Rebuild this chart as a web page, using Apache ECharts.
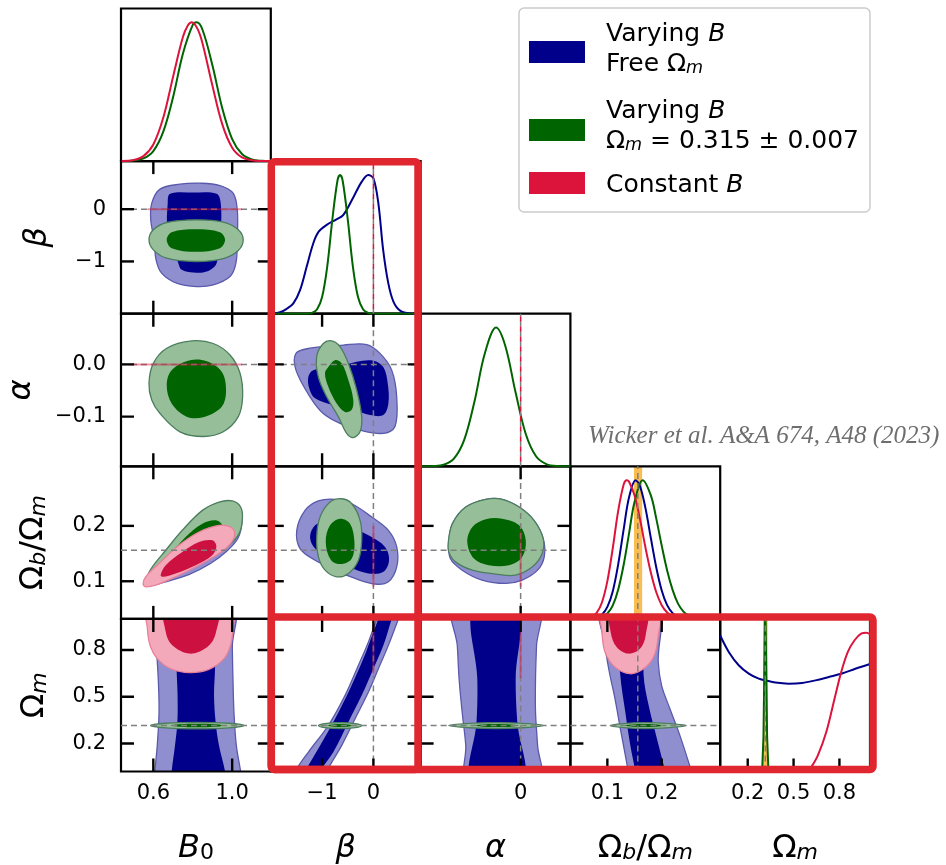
<!DOCTYPE html>
<html>
<head>
<meta charset="utf-8">
<script src="https://cdn.jsdelivr.net/npm/echarts@6.0.0/dist/echarts.min.js"></script>
<style>html,body{margin:0;padding:0;background:#fff;}#chart{width:946px;height:865px;}</style>
</head>
<body>
<div id="chart"></div>
<script>
// ================= DATA =================
const runNames = ['Varying B, free Om', 'Varying B, Om = 0.315 +- 0.007', 'Constant B'];

// axis ranges per parameter
const rangeB0 = [0.436, 1.196];
const rangeBeta = [-2.0, 0.92];
const rangeAlpha = [-0.195, 0.097];
const rangeOmb = [0.032, 0.3076];
const rangeOm = [0.02, 1.0];

// ticks and tick labels
const ticksB0 = [0.6, 1.0], labelsB0 = ['0.6', '1.0'];
const ticksBeta = [-1, 0], labelsBeta = ['\u22121', '0'];
const ticksAlphaX = [0], labelsAlphaX = ['0'];
const ticksAlphaY = [-0.1, 0], labelsAlphaY = ['\u22120.1', '0.0'];
const ticksOmb = [0.1, 0.2], labelsOmb = ['0.1', '0.2'];
const ticksOm = [0.2, 0.5, 0.8], labelsOm = ['0.2', '0.5', '0.8'];

// reference values and Planck bands
const refBeta = 0, refAlpha = 0, refOmb = 0.156, refOm = 0.315;
const bandOmb = [0.149, 0.164];
const bandOm = [0.300, 0.330];

// ---- 1D marginals (normalised) ----
const b0Red = [[0.44,0.001],[0.50,0.008],[0.55,0.036],[0.60,0.12],[0.65,0.31],[0.70,0.607],[0.75,0.894],[0.775,0.978],[0.795,1.0],[0.825,0.951],[0.85,0.846],[0.90,0.543],[0.95,0.265],[1.00,0.097],[1.05,0.027],[1.10,0.006],[1.15,0.001],[1.196,0]];
const b0Green = [[0.44,0],[0.50,0.004],[0.55,0.019],[0.60,0.072],[0.65,0.21],[0.70,0.46],[0.75,0.774],[0.80,0.982],[0.82,1.0],[0.85,0.945],[0.90,0.689],[0.95,0.38],[1.00,0.159],[1.05,0.051],[1.10,0.012],[1.15,0.002],[1.196,0]];
const betaBlue = [[-2.0,0],[-1.95,0.002],[-1.82,0.01],[-1.69,0.035],[-1.56,0.075],[-1.43,0.17],[-1.30,0.34],[-1.17,0.51],[-1.07,0.59],[-0.91,0.64],[-0.72,0.68],[-0.59,0.71],[-0.39,0.84],[-0.23,0.95],[-0.10,1.0],[0.0,0.975],[0.095,0.80],[0.19,0.46],[0.29,0.22],[0.39,0.087],[0.52,0.022],[0.71,0.002],[0.92,0]];
const betaGreen = [[-2.0,0],[-1.3,0],[-1.2,0.005],[-1.1,0.03],[-1.0,0.12],[-0.9,0.34],[-0.8,0.68],[-0.7,0.96],[-0.65,1.0],[-0.6,0.96],[-0.5,0.68],[-0.4,0.34],[-0.3,0.12],[-0.2,0.03],[-0.1,0.005],[0.0,0],[0.92,0]];
const alphaGreen = [[-0.195,0],[-0.17,0.002],[-0.15,0.011],[-0.13,0.055],[-0.11,0.19],[-0.09,0.467],[-0.07,0.811],[-0.048,1.0],[-0.03,0.869],[-0.01,0.535],[0.01,0.233],[0.03,0.072],[0.05,0.016],[0.07,0.002],[0.097,0]];
const ombRed = [[0.032,0],[0.06,0.003],[0.07,0.012],[0.08,0.042],[0.09,0.118],[0.10,0.272],[0.11,0.511],[0.12,0.78],[0.13,0.969],[0.1355,1.0],[0.14,0.989],[0.15,0.89],[0.16,0.72],[0.17,0.516],[0.18,0.334],[0.19,0.192],[0.20,0.099],[0.21,0.046],[0.22,0.019],[0.24,0.002],[0.26,0],[0.3076,0]];
const ombBlue = [[0.032,0],[0.07,0.002],[0.08,0.009],[0.09,0.031],[0.10,0.087],[0.11,0.2],[0.12,0.395],[0.13,0.645],[0.14,0.878],[0.152,1.0],[0.16,0.957],[0.17,0.80],[0.18,0.583],[0.19,0.371],[0.20,0.205],[0.21,0.099],[0.22,0.042],[0.23,0.015],[0.25,0.001],[0.27,0],[0.3076,0]];
const ombGreen = [[0.032,0],[0.08,0.004],[0.09,0.013],[0.10,0.039],[0.11,0.097],[0.12,0.212],[0.13,0.39],[0.14,0.618],[0.15,0.842],[0.165,1.0],[0.18,0.89],[0.19,0.723],[0.20,0.528],[0.21,0.349],[0.22,0.209],[0.23,0.11],[0.24,0.053],[0.25,0.023],[0.26,0.009],[0.28,0.001],[0.3076,0]];
const omBlue = [[0.02,0.98],[0.076,0.862],[0.141,0.766],[0.207,0.706],[0.272,0.669],[0.316,0.657],[0.381,0.641],[0.468,0.633],[0.556,0.638],[0.643,0.657],[0.730,0.681],[0.817,0.706],[0.904,0.741],[1.0,0.775]];
const omRed = [[0.02,0],[0.55,0],[0.60,0.01],[0.615,0.03],[0.659,0.117],[0.714,0.285],[0.768,0.525],[0.812,0.718],[0.855,0.862],[0.899,0.946],[0.942,0.994],[0.975,1.0],[1.0,0.99]];
const omGreen = [[0.02,0],[0.28,0],[0.295,0.02],[0.303,0.25],[0.309,0.75],[0.315,1.25],[0.321,0.75],[0.327,0.25],[0.335,0.02],[0.35,0],[1.0,0]];

// ---- 2D contours (outer = 95%, inner = 68%) ----
const b0beta_blue2 = [[0.634,0.383],[0.735,0.478],[0.837,0.497],[0.938,0.453],[1.005,0.306],[1.026,-0.013],[1.026,-0.587],[1.019,-1.033],[0.989,-1.288],[0.904,-1.448],[0.820,-1.480],[0.718,-1.416],[0.642,-1.224],[0.614,-0.969],[0.604,-0.587],[0.587,-0.204],[0.592,0.115]];
const b0beta_blue1 = [[0.685,0.293],[0.803,0.319],[0.921,0.293],[0.942,0.115],[0.942,-0.395],[0.921,-1.033],[0.871,-1.193],[0.803,-1.212],[0.744,-1.161],[0.727,-1.033],[0.673,-0.395],[0.673,0.115]];
const b0beta_green2 = [[0.578,-0.587],[0.600,-0.395],[0.668,-0.255],[0.816,-0.204],[0.955,-0.249],[1.031,-0.395],[1.056,-0.587],[1.031,-0.791],[0.955,-0.944],[0.816,-1.001],[0.668,-0.938],[0.600,-0.778]];
const b0beta_green1 = [[0.668,-0.587],[0.693,-0.440],[0.816,-0.383],[0.938,-0.440],[0.964,-0.587],[0.938,-0.746],[0.816,-0.816],[0.693,-0.746]];

const b0alpha_green2 = [[0.578,-0.036],[0.600,0.002],[0.668,0.031],[0.795,0.045],[0.904,0.040],[0.989,0.018],[1.040,-0.017],[1.053,-0.062],[1.031,-0.100],[0.955,-0.129],[0.853,-0.138],[0.735,-0.129],[0.634,-0.094],[0.592,-0.068]];
const b0alpha_green1 = [[0.668,-0.040],[0.693,-0.011],[0.786,0.008],[0.871,0.006],[0.947,-0.014],[0.969,-0.049],[0.947,-0.081],[0.853,-0.101],[0.769,-0.100],[0.693,-0.075]];

const betaalpha_blue2 = [[-1.509,0.021],[-1.236,0.031],[-0.587,0.037],[-0.131,0.038],[0.129,0.021],[0.357,-0.011],[0.454,-0.062],[0.421,-0.119],[0.193,-0.132],[-0.261,-0.126],[-0.651,-0.113],[-0.977,-0.094],[-1.236,-0.062],[-1.509,-0.011]];
const betaalpha_blue1 = [[-1.269,-0.024],[-1.172,-0.011],[-0.782,-0.008],[-0.326,0.005],[0.0,0.007],[0.193,-0.005],[0.279,-0.036],[0.292,-0.075],[0.193,-0.097],[-0.066,-0.097],[-0.392,-0.087],[-0.782,-0.078],[-1.138,-0.065],[-1.250,-0.046]];
const betaalpha_green2 = [[-0.977,0.040],[-0.814,0.045],[-0.651,0.034],[-0.489,0.002],[-0.326,-0.049],[-0.228,-0.100],[-0.261,-0.129],[-0.392,-0.140],[-0.521,-0.132],[-0.684,-0.100],[-0.911,-0.062],[-1.074,-0.024],[-1.106,0.015]];
const betaalpha_green1 = [[-0.879,-0.005],[-0.749,0.008],[-0.619,0.002],[-0.489,-0.030],[-0.392,-0.068],[-0.424,-0.087],[-0.554,-0.091],[-0.716,-0.075],[-0.879,-0.043],[-0.944,-0.017]];

const b0omb_blue2 = [[0.575,0.100],[0.600,0.120],[0.663,0.150],[0.747,0.186],[0.849,0.222],[0.933,0.238],[1.001,0.240],[1.043,0.229],[1.050,0.207],[1.030,0.178],[0.975,0.155],[0.890,0.132],[0.780,0.112],[0.663,0.099],[0.600,0.094]];
const b0omb_green2 = [[0.570,0.107],[0.595,0.126],[0.663,0.156],[0.747,0.192],[0.849,0.228],[0.933,0.243],[1.001,0.245],[1.043,0.234],[1.052,0.213],[1.035,0.186],[0.984,0.165],[0.899,0.144],[0.781,0.123],[0.663,0.108],[0.595,0.103]];
const b0omb_green1 = [[0.637,0.117],[0.679,0.144],[0.764,0.180],[0.849,0.204],[0.916,0.210],[0.950,0.201],[0.942,0.180],[0.882,0.159],[0.781,0.138],[0.679,0.117]];
const b0omb_red2 = [[0.548,0.095],[0.561,0.108],[0.629,0.132],[0.730,0.165],[0.832,0.189],[0.933,0.201],[0.992,0.198],[1.013,0.186],[0.992,0.168],[0.933,0.150],[0.832,0.129],[0.713,0.108],[0.612,0.093],[0.561,0.090]];
const b0omb_red1 = [[0.637,0.111],[0.663,0.129],[0.747,0.153],[0.832,0.171],[0.899,0.174],[0.920,0.163],[0.899,0.147],[0.815,0.129],[0.713,0.114],[0.654,0.108]];

const betaomb_blue2 = [[-1.494,0.192],[-1.332,0.228],[-1.072,0.245],[-0.747,0.248],[-0.422,0.240],[-0.032,0.216],[0.292,0.192],[0.455,0.162],[0.455,0.126],[0.292,0.099],[0.032,0.095],[-0.357,0.105],[-0.747,0.120],[-1.137,0.138],[-1.430,0.159]];
const betaomb_blue1 = [[-1.235,0.180],[-1.137,0.201],[-0.942,0.207],[-0.487,0.198],[-0.097,0.183],[0.227,0.162],[0.305,0.138],[0.195,0.117],[-0.097,0.114],[-0.487,0.126],[-0.877,0.144],[-1.137,0.159]];
const betaomb_green2 = [[-1.105,0.180],[-1.040,0.216],[-0.845,0.243],[-0.617,0.249],[-0.422,0.240],[-0.260,0.210],[-0.227,0.174],[-0.292,0.138],[-0.487,0.114],[-0.715,0.108],[-0.942,0.120],[-1.072,0.144]];
const betaomb_green1 = [[-0.929,0.171],[-0.845,0.201],[-0.650,0.213],[-0.455,0.204],[-0.370,0.171],[-0.422,0.141],[-0.617,0.131],[-0.825,0.138]];

const alphaomb_blue2 = [[-0.140,0.171],[-0.133,0.204],[-0.107,0.234],[-0.068,0.248],[-0.036,0.248],[-0.003,0.234],[0.026,0.210],[0.044,0.177],[0.046,0.144],[0.033,0.120],[0.003,0.102],[-0.029,0.096],[-0.075,0.102],[-0.114,0.120],[-0.137,0.141]];
const alphaomb_green2 = [[-0.141,0.171],[-0.133,0.204],[-0.107,0.234],[-0.068,0.248],[-0.036,0.248],[-0.003,0.234],[0.026,0.210],[0.044,0.177],[0.042,0.150],[0.023,0.126],[-0.010,0.111],[-0.049,0.113],[-0.094,0.120],[-0.127,0.135],[-0.140,0.153]];
const alphaomb_green1 = [[-0.104,0.171],[-0.094,0.198],[-0.068,0.212],[-0.036,0.213],[-0.003,0.201],[0.010,0.174],[0.003,0.144],[-0.023,0.129],[-0.062,0.129],[-0.091,0.141]];

const b0om_blue2 = [[0.606,-0.06],[0.608,0.02],[0.620,0.188],[0.629,0.402],[0.625,0.616],[0.615,0.830],[0.608,1.08],[1.004,1.08],[1.001,0.830],[1.004,0.616],[1.009,0.402],[1.021,0.188],[1.043,0.02],[1.05,-0.06]];
const b0om_blue1 = [[0.690,-0.06],[0.693,0.02],[0.710,0.188],[0.722,0.338],[0.723,0.509],[0.718,0.680],[0.710,1.08],[0.916,1.08],[0.913,0.680],[0.908,0.509],[0.916,0.338],[0.933,0.188],[0.964,0.02],[0.97,-0.06]];
const b0om_green2 = [[0.586,0.315],[0.663,0.330],[0.823,0.336],[0.984,0.330],[1.060,0.315],[0.984,0.300],[0.823,0.294],[0.663,0.300]];
const b0om_green1 = [[0.690,0.315],[0.735,0.323],[0.823,0.326],[0.915,0.323],[0.955,0.315],[0.915,0.307],[0.823,0.304],[0.735,0.307]];
const b0om_red2 = [[0.570,1.10],[0.570,0.937],[0.583,0.832],[0.620,0.745],[0.688,0.680],[0.784,0.655],[0.882,0.676],[0.959,0.745],[0.992,0.832],[1.004,0.937],[1.004,1.10]];
const b0om_red1 = [[0.659,1.10],[0.663,0.916],[0.696,0.830],[0.784,0.777],[0.874,0.820],[0.916,0.905],[0.925,1.10]];

const betaom_blue2 = [[-1.62,-0.06],[-1.527,0.02],[-1.267,0.145],[-0.877,0.317],[-0.552,0.509],[-0.292,0.702],[-0.097,0.852],[0.065,1.0],[0.15,1.08],[0.58,1.08],[0.487,1.0],[0.292,0.830],[0.097,0.680],[-0.097,0.531],[-0.357,0.359],[-0.617,0.188],[-0.910,0.02],[-0.98,-0.06]];
const betaom_blue1 = [[-1.43,-0.06],[-1.332,0.02],[-1.072,0.167],[-0.747,0.359],[-0.455,0.552],[-0.195,0.745],[0.0,0.916],[0.097,1.0],[0.17,1.08],[0.44,1.08],[0.357,1.0],[0.195,0.830],[0.0,0.680],[-0.227,0.509],[-0.487,0.338],[-0.780,0.145],[-1.040,0.02],[-1.11,-0.06]];
const betaom_green2 = [[-1.072,0.315],[-0.95,0.328],[-0.65,0.334],[-0.35,0.328],[-0.227,0.315],[-0.35,0.302],[-0.65,0.296],[-0.95,0.302]];
const betaom_green1 = [[-0.90,0.315],[-0.8,0.322],[-0.65,0.325],[-0.5,0.322],[-0.40,0.315],[-0.5,0.308],[-0.65,0.305],[-0.8,0.308]];

const alphaom_blue2 = [[-0.130,1.08],[-0.1235,0.830],[-0.120,0.616],[-0.114,0.402],[-0.107,0.188],[-0.104,-0.06],[0.037,-0.06],[0.033,0.188],[0.029,0.402],[0.029,0.616],[0.031,0.830],[0.034,1.08]];
const alphaom_blue1 = [[-0.092,1.08],[-0.0845,0.616],[-0.086,0.338],[-0.096,-0.06],[0.005,-0.06],[-0.0065,0.338],[-0.0097,0.616],[-0.006,1.08]];
const alphaom_green2 = [[-0.140,0.315],[-0.10,0.329],[-0.047,0.334],[0.005,0.329],[0.045,0.315],[0.005,0.301],[-0.047,0.296],[-0.10,0.301]];
const alphaom_green1 = [[-0.090,0.315],[-0.075,0.322],[-0.047,0.325],[-0.019,0.322],[-0.004,0.315],[-0.019,0.308],[-0.047,0.305],[-0.075,0.308]];

const ombom_blue2 = [[0.089,1.08],[0.0956,0.830],[0.1036,0.659],[0.114,0.488],[0.125,0.274],[0.1385,0.02],[0.142,-0.06],[0.262,-0.06],[0.2549,0.02],[0.2334,0.252],[0.2151,0.423],[0.1997,0.573],[0.1936,0.723],[0.192,1.08]];
const ombom_blue1 = [[0.117,1.08],[0.1238,0.638],[0.133,0.402],[0.1422,0.188],[0.1514,0.02],[0.154,-0.06],[0.211,-0.06],[0.2065,0.02],[0.1912,0.231],[0.1759,0.445],[0.1667,0.638],[0.166,1.08]];
const ombom_green2 = [[0.105,0.315],[0.13,0.328],[0.170,0.334],[0.215,0.328],[0.245,0.315],[0.215,0.302],[0.170,0.296],[0.13,0.302]];
const ombom_green1 = [[0.13,0.315],[0.145,0.322],[0.168,0.325],[0.19,0.322],[0.205,0.315],[0.19,0.308],[0.168,0.305],[0.145,0.308]];
const ombom_red2 = [[0.0889,1.10],[0.0901,0.916],[0.0956,0.788],[0.114,0.691],[0.1416,0.648],[0.1667,0.680],[0.185,0.755],[0.193,0.873],[0.1942,1.10]];
const ombom_red1 = [[0.1048,1.10],[0.106,0.916],[0.117,0.820],[0.1385,0.777],[0.16,0.809],[0.1704,0.894],[0.1722,1.10]];

// degenerate constant-B contours (beta = alpha = 0)
const constB_b0beta = [[0.57,0],[1.05,0]];
const constB_b0alpha = [[0.47,0],[1.05,0]];
const constB_betaomb = [[0,0.09],[0,0.20]];
const constB_alphaomb = [[0,0.09],[0,0.19]];
const constB_betaom = [[0,0.65],[0,1.0]];
const constB_alphaom = [[0,0.62],[0,1.0]];

// ================= CHART =================
const FONT = 'DejaVu Sans';
const PL = 121, PT = 8.5, PW = 149.8, PH = 152.6;
const TICK_LEN = 13;
const COL = {
  blue:  {line:'#00008b', fill2:'#8f8fd0', edge2:'#5a5aac', fill1:'#00008b', name: runNames[0]},
  green: {line:'#006400', fill2:'#96bf99', edge2:'#4b7d5e', fill1:'#006400', name: runNames[1]},
  red:   {line:'#dc143c', fill2:'#f3a9ba', edge2:'#e8809a', fill1:'#cc1040', name: runNames[2]}
};
const AR = {
  n:  {fontFamily:FONT, fontSize:32, lineHeight:38, color:'#000', verticalAlign:'bottom'},
  i:  {fontFamily:FONT, fontSize:32, lineHeight:38, color:'#000', fontStyle:'italic', verticalAlign:'bottom'},
  su: {fontFamily:FONT, fontSize:22, lineHeight:16, color:'#000', verticalAlign:'bottom', padding:[14,0,0,0]},
  si: {fontFamily:FONT, fontSize:22, lineHeight:16, color:'#000', fontStyle:'italic', verticalAlign:'bottom', padding:[14,0,0,0]}
};
const P = [
  {range:rangeB0, xt:ticksB0, xl:labelsB0, title:'{i|B}{su|0}'},
  {range:rangeBeta, xt:ticksBeta, xl:labelsBeta, yt:ticksBeta, yl:labelsBeta, title:'{i|\u03b2}', ref:refBeta},
  {range:rangeAlpha, xt:ticksAlphaX, xl:labelsAlphaX, yt:ticksAlphaY, yl:labelsAlphaY, title:'{i|\u03b1}', ref:refAlpha},
  {range:rangeOmb, xt:ticksOmb, xl:labelsOmb, yt:ticksOmb, yl:labelsOmb, title:'{n|\u03a9}{si|b}{n|/\u03a9}{si|m}', ref:refOmb},
  {range:rangeOm, xt:ticksOm, xl:labelsOm, yt:ticksOm, yl:labelsOm, title:'{n|\u03a9}{si|m}', ref:refOm}
];
const yNameGap = [0, 67, 83, 71, 70];
function lab(vals, labs, v) { for (let i = 0; i < vals.length; i++) if (Math.abs(v - vals[i]) < 1e-9) return labs[i]; return ''; }

const grids = [], xAxes = [], yAxes = [], xIdx = {}, yIdx = {};
const key = (r, c) => r * 10 + c;
for (let r = 0; r < 5; r++) for (let c = 0; c <= r; c++) {
  const gi = grids.length, diag = r === c, px = P[c], py = P[r];
  grids.push({left: PL + c * PW, top: PT + r * PH, width: PW, height: PH, show: true, borderColor: '#000', borderWidth: 2.2,
    backgroundColor: 'rgba(0,0,0,0)', z: 3, containLabel: false, outerBoundsMode: 'none'});
  xIdx[key(r, c)] = xAxes.length;
  const showXLab = r === 4;
  xAxes.push({type:'value', gridIndex: gi, position:'bottom', min: px.range[0], max: px.range[1], z: 11,
    axisLine: {show:false, onZero:false}, splitLine:{show:false}, splitArea:{show:false}, minorTick:{show:false},
    axisTick: {show:false},
    axisLabel: showXLab ? {show:true, customValues: px.xt, formatter: v => lab(px.xt, px.xl, v), fontFamily: FONT, fontSize: 21, color:'#000', margin: 12} : {show:false},
    name: showXLab ? px.title : '', nameLocation:'middle', nameGap: 55, nameMoveOverlap: false,
    nameTextStyle: {fontFamily: FONT, fontSize: 32, color:'#000', rich: AR}});
  yIdx[key(r, c)] = yAxes.length;
  if (diag) {
    yAxes.push({type:'value', gridIndex: gi, min: 0, max: 1.1, show: false, axisLine: {show:false, onZero:false}});
  } else {
    yAxes.push({type:'value', gridIndex: gi, position:'left', min: py.range[0], max: py.range[1], z: 11,
      axisLine: {show:false, onZero:false}, splitLine:{show:false}, axisTick: {show:false},
      axisLabel: c === 0 ? {show:true, customValues: py.yt, formatter: v => lab(py.yt, py.yl, v), fontFamily: FONT, fontSize: 21, color:'#000', margin: 15} : {show:false},
      name: c === 0 ? py.title : '', nameLocation:'middle', nameGap: yNameGap[r], nameMoveOverlap: false,
      nameTextStyle: {fontFamily: FONT, fontSize: 32, color:'#000', rich: AR}});
  }
}

const series = [];
let zOrd = 0;
function addPoly(r, c, run, lvl, pts) {
  const col = COL[run], ord = zOrd++;
  const fill = lvl === 2 ? col.fill2 : col.fill1;
  const stroke = lvl === 2 ? col.edge2 : null;
  series.push({type:'custom', name: col.name, xAxisIndex: xIdx[key(r, c)], yAxisIndex: yIdx[key(r, c)], clip: true, z: 2, silent: true,
    itemStyle:{color: col.line}, data: pts,
    renderItem: (params, api) => {
      if (params.dataIndex !== 0) return null;
      const p = pts.map(d => api.coord(d));
      return {type:'polygon', z2: ord, shape:{points: p, smooth: 0.35},
        style:{fill: fill, stroke: stroke || 'none', lineWidth: stroke ? 1.3 : 0}};
    }});
}
const contours = [
  [1,0,'blue',2,b0beta_blue2],[1,0,'blue',1,b0beta_blue1],[1,0,'green',2,b0beta_green2],[1,0,'green',1,b0beta_green1],
  [2,0,'green',2,b0alpha_green2],[2,0,'green',1,b0alpha_green1],
  [2,1,'blue',2,betaalpha_blue2],[2,1,'blue',1,betaalpha_blue1],[2,1,'green',2,betaalpha_green2],[2,1,'green',1,betaalpha_green1],
  [3,0,'blue',2,b0omb_blue2],[3,0,'green',2,b0omb_green2],[3,0,'green',1,b0omb_green1],[3,0,'red',2,b0omb_red2],[3,0,'red',1,b0omb_red1],
  [3,1,'blue',2,betaomb_blue2],[3,1,'blue',1,betaomb_blue1],[3,1,'green',2,betaomb_green2],[3,1,'green',1,betaomb_green1],
  [3,2,'blue',2,alphaomb_blue2],[3,2,'green',2,alphaomb_green2],[3,2,'green',1,alphaomb_green1],
  [4,0,'blue',2,b0om_blue2],[4,0,'blue',1,b0om_blue1],[4,0,'green',2,b0om_green2],[4,0,'green',1,b0om_green1],[4,0,'red',2,b0om_red2],[4,0,'red',1,b0om_red1],
  [4,1,'blue',2,betaom_blue2],[4,1,'blue',1,betaom_blue1],[4,1,'green',2,betaom_green2],[4,1,'green',1,betaom_green1],
  [4,2,'blue',2,alphaom_blue2],[4,2,'blue',1,alphaom_blue1],[4,2,'green',2,alphaom_green2],[4,2,'green',1,alphaom_green1],
  [4,3,'blue',2,ombom_blue2],[4,3,'blue',1,ombom_blue1],[4,3,'green',2,ombom_green2],[4,3,'green',1,ombom_green1],[4,3,'red',2,ombom_red2],[4,3,'red',1,ombom_red1]
];
contours.forEach(a => addPoly(a[0], a[1], a[2], a[3], a[4]));

// Planck bands in diagonal panels
[[3, bandOmb], [4, bandOm]].forEach(([c, band]) => {
  series.push({type:'custom', xAxisIndex: xIdx[key(c, c)], yAxisIndex: yIdx[key(c, c)], clip: true, z: 1, silent: true,
    data: [[band[0], 0]],
    renderItem: (params, api) => {
      const a = api.coord([band[0], 0]), b = api.coord([band[1], 1.1]);
      return {type:'rect', shape:{x: a[0], y: b[1], width: b[0] - a[0], height: a[1] - b[1]}, style:{fill:'rgba(247,172,35,0.78)'}};
    }});
});

// 1D marginals
const oneD = [
  [0,'green',b0Green],[0,'red',b0Red],
  [1,'blue',betaBlue],[1,'green',betaGreen],
  [2,'green',alphaGreen],
  [3,'blue',ombBlue],[3,'green',ombGreen],[3,'red',ombRed],
  [4,'blue',omBlue],[4,'red',omRed],[4,'green',omGreen]
];
oneD.forEach(([c, run, pts]) => {
  series.push({type:'line', xAxisIndex: xIdx[key(c, c)], yAxisIndex: yIdx[key(c, c)], data: pts, symbol:'none', showSymbol: false,
    smooth: run === 'green' && c === 4 ? false : 0.35, clip: true, z: 4, silent: true,
    lineStyle:{color: COL[run].line, width: 2}, itemStyle:{color: COL[run].line}});
});

// reference dashed lines
function refLine(r, c, pts, color, width, dash, off, z, clip) {
  series.push({type:'line', xAxisIndex: xIdx[key(r, c)], yAxisIndex: yIdx[key(r, c)], data: pts, symbol:'none', showSymbol: false,
    clip: clip !== false, z: z, silent: true, lineStyle:{color: color, width: width, type: dash, dashOffset: off, cap: 'butt'}});
}
const GRAY = '#7f7f7f';
for (let r = 0; r < 5; r++) for (let c = 0; c <= r; c++) {
  const diag = r === c;
  const yr = diag ? [0, 1.1] : P[r].range;
  if (P[c].ref !== undefined) refLine(r, c, [[P[c].ref, yr[0]], [P[c].ref, yr[1]]], GRAY, 1.5, [6, 4], 0, 5);
  if (!diag && P[r].ref !== undefined) refLine(r, c, [[P[c].range[0], P[r].ref], [P[c].range[1], P[r].ref]], GRAY, 1.5, [6, 4], 0, 5);
}
// constant-B delta functions on the diagonal
refLine(1, 1, [[refBeta, 0], [refBeta, 1.1]], '#dc143c', 1.5, [5, 5], 5, 6);
refLine(2, 2, [[refAlpha, 0], [refAlpha, 1.1]], '#dc143c', 1.5, [5, 5], 5, 6);
// degenerate constant-B 2D contours
[[1,0,constB_b0beta],[2,0,constB_b0alpha],[3,1,constB_betaomb],[3,2,constB_alphaomb],[4,1,constB_betaom],[4,2,constB_alphaom]]
  .forEach(([r, c, pts]) => refLine(r, c, pts, 'rgba(220,20,60,0.45)', 2, 'solid', 0, 6));

// inward tick marks on every frame side: short line segments in data space at the tick values
for (let r = 0; r < 5; r++) for (let c = 0; c <= r; c++) {
  const diag = r === c;
  const xr = P[c].range, yr = diag ? [0, 1.1] : P[r].range;
  const dx = TICK_LEN * (xr[1] - xr[0]) / PW, dy = TICK_LEN * (yr[1] - yr[0]) / PH;
  const sides = diag ? (r === 4 ? ['bottom'] : []) : ['bottom', 'top', 'left', 'right'];
  sides.forEach(side => {
    const isX = side === 'bottom' || side === 'top';
    (isX ? P[c].xt : P[r].yt).forEach(v => {
      let seg;
      if (side === 'bottom') seg = [[v, yr[0]], [v, yr[0] + dy]];
      else if (side === 'top') seg = [[v, yr[1]], [v, yr[1] - dy]];
      else if (side === 'left') seg = [[xr[0], v], [xr[0] + dx, v]];
      else seg = [[xr[1], v], [xr[1] - dx, v]];
      refLine(r, c, seg, '#000000', 2.4, 'solid', 0, 8, false);
    });
  });
}

const LR = {
  t:  {fontFamily:FONT, fontSize:25, lineHeight:30, color:'#000', verticalAlign:'bottom'},
  tp: {fontFamily:FONT, fontSize:25, lineHeight:30, color:'#000', verticalAlign:'bottom', padding:[0,0,0,16]},
  i:  {fontFamily:FONT, fontSize:25, lineHeight:30, color:'#000', fontStyle:'italic', verticalAlign:'bottom'},
  s:  {fontFamily:FONT, fontSize:17.5, lineHeight:12, color:'#000', fontStyle:'italic', verticalAlign:'bottom', padding:[12,0,0,0]}
};
const legendText = {};
legendText[runNames[0]] = '{tp|Varying }{i|B}\n{tp|Free \u03a9}{s|m}';
legendText[runNames[1]] = '{tp|Varying }{i|B}\n{tp|\u03a9}{s|m}{t| = 0.315 \u00b1 0.007}';
legendText[runNames[2]] = '{tp|Constant }{i|B}';
const legendColors = [COL.blue.line, COL.green.line, COL.red.line];
const legendTops = [22, 99, 172];
const legendPadBottom = [10, 12, 0];
const legends = runNames.map((n, k) => ({
  show: true, left: 529, top: legendTops[k], orient: 'vertical', align: 'left', padding: 0,
  itemWidth: 56, itemHeight: 22, icon: 'rect', selectedMode: false, z: 20,
  textStyle: {fontFamily: FONT, fontSize: 25, color: '#000', rich: LR, padding: [0, 0, legendPadBottom[k], 0]},
  formatter: nm => legendText[nm],
  data: [{name: n, itemStyle: {color: legendColors[k], borderWidth: 0}}]
}));

const option = {
  animation: false,
  backgroundColor: '#ffffff',
  textStyle: {fontFamily: FONT},
  grid: grids, xAxis: xAxes, yAxis: yAxes, series: series,
  legend: legends,
  graphic: [
    {type:'rect', z: 15, shape:{x: 519, y: 8, width: 351, height: 204, r: 5}, style:{fill:'#ffffff', stroke:'#cccccc', lineWidth: 1.5}},
    {type:'text', left: 588, top: 424, z: 50, style:{text:'Wicker et al. A&A 674, A48 (2023)', font:'italic 25px "Liberation Serif"', fill:'#6e6e6e'}},
    {type:'rect', z: 100, shape:{x: 271.3, y: 161.7, width: 146.7, height: 607.8, r: 3}, style:{fill:'none', stroke:'#e0262f', lineWidth: 7.5}},
    {type:'rect', z: 100, shape:{x: 271.3, y: 617, width: 601.7, height: 152.5, r: 3}, style:{fill:'none', stroke:'#e0262f', lineWidth: 7.5}}
  ]
};
const chart = echarts.init(document.getElementById('chart'), null, {renderer: 'canvas'});
chart.setOption(option);
</script>
</body>
</html>
